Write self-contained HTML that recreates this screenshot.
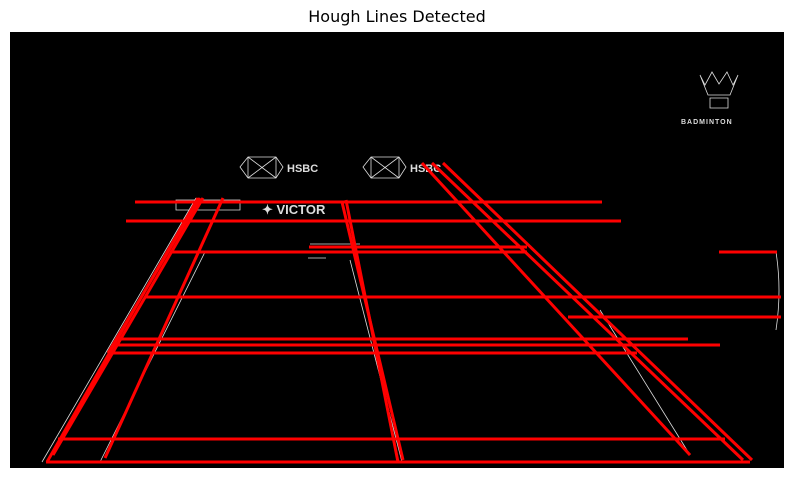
<!DOCTYPE html>
<html><head><meta charset="utf-8"><style>
body{margin:0;background:#fff;width:794px;height:478px;overflow:hidden;font-family:"DejaVu Sans","Liberation Sans",sans-serif}
#title{position:absolute;left:0;width:794px;top:7px;text-align:center;font-size:16px;color:#000}
svg{position:absolute;left:0;top:0}
</style></head><body>
<div id="title">Hough Lines Detected</div>
<svg id="s" width="794" height="478">
<rect x="10" y="32" width="774" height="436" fill="#000"/>
<g stroke="#ddd" stroke-width="0.8" fill="none">
<polygon points="240,167 248,157 276,157 283,167 276,178 248,178"/>
<path d="M248,157 L276,178 M276,157 L248,178 M248,157 V178 M276,157 V178"/>
<polygon points="363,167 371,157 399,157 406,167 399,178 371,178"/>
<path d="M371,157 L399,178 M399,157 L371,178 M371,157 V178 M399,157 V178"/>
<path d="M42,462 L196,198 M100,462 L205,252 M350,260 L402,462 M600,310 L690,455"/>
<path d="M700,75 L705,85 L712,72 L719,84 L727,72 L733,85 L738,75 L730,95 L708,95 Z M710,98 H728 V108 H710 Z"/>
<path d="M776,252 Q782,290 776,330"/>
<path d="M310,244 H360 M308,258 H326 M176,200 H240 V210 H176 Z"/>
</g>
<g fill="#ddd" font-size="11" font-weight="bold" font-family="Liberation Sans, sans-serif">
<text x="287" y="172">HSBC</text><text x="410" y="172">HSBC</text>
<text x="262" y="214" font-size="13">✦ VICTOR</text>
<text x="681" y="124" font-size="7" letter-spacing="1">BADMINTON</text>
</g>
<g id="lines" stroke="#ff0000" stroke-width="3" stroke-linecap="butt"></g>
</svg>
<script>
const x1s=[135,126,170,309,145,719,568,117,113,108,58,46,47,53,105,108,342,346,422,432,443];
const y1s=[202,221,252,247,297,252,317,339,345,353,439,462,462,455,458,353,202,200,163,163,163];
const x2s=[602,621,527,527,781,777,781,688,720,637,725,750,198,203,223,200,403,398,690,743,752];
const y2s=[202,221,252,247,297,252,317,339,345,353,439,462,198,198,198,198,460,462,455,460,460];
const g=document.getElementById('lines');
for(let i=0;i<x1s.length;i++){
const l=document.createElementNS('http://www.w3.org/2000/svg','line');
l.setAttribute('x1',x1s[i]);l.setAttribute('y1',y1s[i]);l.setAttribute('x2',x2s[i]);l.setAttribute('y2',y2s[i]);


g.appendChild(l);}
</script>
</body></html>
